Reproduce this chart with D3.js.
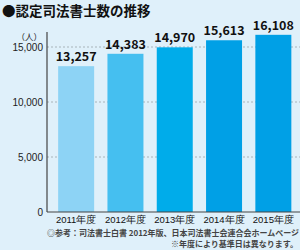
<!DOCTYPE html>
<html>
<head>
<meta charset="utf-8">
<script src="https://cdn.jsdelivr.net/npm/d3@7"></script>
<style>
  html, body { margin: 0; padding: 0; background: #dff0fa; }
  svg { display: block; font-family: "Noto Sans CJK JP", "Noto Sans", sans-serif; }
</style>
</head>
<body>
<div id="chart"></div>
<script>
// data
var years = ['2011年度', '2012年度', '2013年度', '2014年度', '2015年度'];
var counts = [13257, 14383, 14970, 15613, 16108];
var yTicks = [0, 5000, 10000, 15000];
var barColors = ['#8dd3f5', '#45bff0', '#00acea', '#00a0e6', '#00a0e6'];

var width = 300, height = 250;
var margin = { top: 32, right: 2, bottom: 38, left: 47 };
var baseY = height - margin.bottom;

var svg = d3.select('#chart').append('svg')
    .attr('width', width)
    .attr('height', height);

svg.append('rect').attr('width', width).attr('height', height).attr('fill', '#dff0fa');

// title
svg.append('text')
    .attr('x', 2).attr('y', 16)
    .attr('font-size', 13.5).attr('font-weight', 'bold').attr('fill', '#111')
    .text('●認定司法書士数の推移');

var x = d3.scaleBand()
    .domain(years)
    .range([51.5, 298])
    .paddingInner(0.27)
    .paddingOuter(0.135);

var y = d3.scaleLinear()
    .domain([0, 15000])
    .range([baseY, 47]);

// grid
svg.append('g')
    .selectAll('line')
    .data(yTicks.filter(function (d) { return d > 0; }))
    .enter().append('line')
    .attr('x1', margin.left).attr('x2', width)
    .attr('y1', function (d) { return y(d); })
    .attr('y2', function (d) { return y(d); })
    .attr('stroke', '#9aa4aa').attr('stroke-width', 0.8)
    .attr('stroke-dasharray', '2,2');

// bars
svg.append('g')
    .selectAll('rect')
    .data(counts)
    .enter().append('rect')
    .attr('x', function (d, i) { return x(years[i]); })
    .attr('y', function (d) { return y(d); })
    .attr('width', x.bandwidth())
    .attr('height', function (d) { return baseY - y(d); })
    .attr('fill', function (d, i) { return barColors[i]; });

// value labels
svg.append('g')
    .selectAll('text')
    .data(counts)
    .enter().append('text')
    .attr('x', function (d, i) { return x(years[i]) + x.bandwidth() / 2; })
    .attr('y', function (d) { return y(d) - 5; })
    .attr('text-anchor', 'middle')
    .attr('font-size', 12.5).attr('font-weight', 'bold').attr('fill', '#111')
    .text(function (d) { return d3.format(',')(d); });

// y axis
var axisY = svg.append('g')
    .attr('transform', 'translate(' + margin.left + ',0)')
    .call(d3.axisLeft(y).tickValues(yTicks).tickSize(0).tickPadding(4)
        .tickFormat(d3.format(',')));
axisY.select('.domain').remove();
axisY.selectAll('text')
    .attr('font-size', 10).attr('fill', '#222')
    .attr('font-family', '"Liberation Sans Narrow", "Liberation Sans", sans-serif');

svg.append('line')
    .attr('x1', margin.left).attr('x2', margin.left)
    .attr('y1', margin.top).attr('y2', baseY)
    .attr('stroke', '#444').attr('stroke-width', 1.2);

svg.append('text')
    .attr('x', 42).attr('y', 40)
    .attr('text-anchor', 'end')
    .attr('font-size', 8.5).attr('fill', '#222')
    .text('（人）');

// x axis
var axisX = svg.append('g')
    .attr('transform', 'translate(0,' + baseY + ')')
    .call(d3.axisBottom(x).tickSize(0).tickPadding(4));
axisX.select('.domain').remove();
axisX.selectAll('text')
    .attr('font-size', 9.5).attr('fill', '#111');

svg.append('line')
    .attr('x1', margin.left).attr('x2', width)
    .attr('y1', baseY).attr('y2', baseY)
    .attr('stroke', '#444').attr('stroke-width', 1.2);

// notes
svg.append('text')
    .attr('x', 47).attr('y', 236)
    .attr('font-size', 8).attr('font-weight', 'bold').attr('fill', '#444')
    .attr('textLength', 252).attr('lengthAdjust', 'spacingAndGlyphs')
    .text('◎参考：司法書士白書 2012年版、日本司法書士会連合会ホームページ');

svg.append('text')
    .attr('x', 298).attr('y', 247)
    .attr('text-anchor', 'end')
    .attr('font-size', 8).attr('font-weight', 'bold').attr('fill', '#444')
    .text('※年度により基準日は異なります。');
</script>
</body>
</html>
